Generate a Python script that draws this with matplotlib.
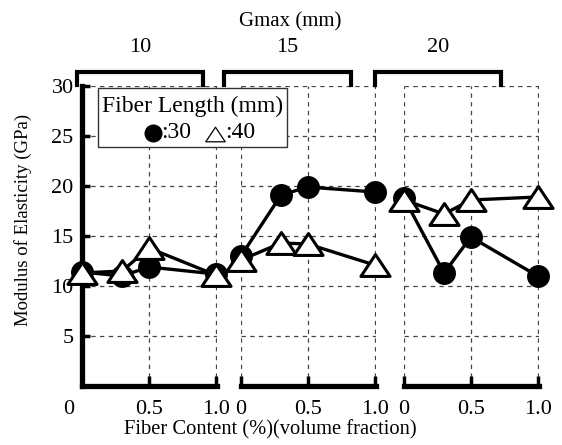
import numpy as np
import matplotlib
matplotlib.use('Agg')
import matplotlib.pyplot as plt
from matplotlib.lines import Line2D
from matplotlib.patches import Rectangle
from matplotlib.path import Path
from matplotlib.transforms import ScaledTranslation

plt.rcParams['font.family'] = ['Liberation Serif', 'DejaVu Serif']

# ── data ──
gmax = ['10', '15', '20']
fiber = [0.0, 0.3, 0.5, 1.0]
len30 = [[11.4, 11.0, 11.9, 11.2],
         [13.0, 19.1, 19.9, 19.4],
         [18.8, 11.3, 14.9, 11.0]]
len40 = [[11.3, 11.5, 13.8, 11.1],
         [12.6, 14.3, 14.2, 12.1],
         [18.6, 17.2, 18.6, 18.9]]
yticks = [5, 10, 15, 20, 25, 30]
xticks = [0, 0.5, 1.0]
xticklabels = ['0', '0.5', '1.0']

W, H = 562, 445
fig = plt.figure(figsize=(W / 100, H / 100), dpi=100)

def fx(px): return px / W
def fy(py): return 1 - py / H

lefts = [82, 241, 404]
pw = 135
top, bot = 86, 386
# wide open triangle, closed path
tri = Path([(-1, -0.75), (1, -0.75), (0, 0.75), (-1, -0.75)],
           [Path.MOVETO, Path.LINETO, Path.LINETO, Path.CLOSEPOLY])

axes = []
for i, left in enumerate(lefts):
    ax = fig.add_axes([fx(left), fy(bot), pw / W, (bot - top) / H])
    ax.set_xlim(0, 1.01)
    ax.set_ylim(0, 30)
    ax.set_xticks(xticks)
    ax.set_xticklabels(xticklabels, fontsize=16)
    ax.set_yticks(yticks)
    ax.grid(True, linestyle=(0, (3.5, 3.5)), color='#444444', linewidth=0.9)
    ax.set_axisbelow(True)
    for s in ['top', 'right']:
        ax.spines[s].set_visible(False)
    ax.spines['bottom'].set_linewidth(3.8)
    ax.tick_params(axis='x', direction='in', length=7, width=2.5, pad=10)
    if i == 0:
        ax.spines['left'].set_linewidth(3.8)
        ax.set_yticklabels([str(v) for v in yticks], fontsize=16)
        ax.tick_params(axis='y', direction='in', length=6, width=2.5, pad=6)
        lab = ax.get_xticklabels()[0]
        lab.set_transform(lab.get_transform() + ScaledTranslation(-13 / 100, 0, fig.dpi_scale_trans))
    else:
        ax.spines['left'].set_visible(False)
        ax.tick_params(axis='y', left=False, labelleft=False)
    ax.plot(fiber, len30[i], color='black', linewidth=2.4, marker='o', markersize=15.5,
            markerfacecolor='black', markeredgecolor='black', clip_on=False, zorder=3)
    ax.plot(fiber, len40[i], color='black', linewidth=2.4, marker=tri, markersize=21,
            markerfacecolor='white', markeredgecolor='black', markeredgewidth=2.2,
            clip_on=False, zorder=4)
    axes.append(ax)

fig.text(fx(23), fy(220), 'Modulus of Elasticity (GPa)', rotation=90,
         ha='center', va='center', fontsize=13.5)
fig.text(fx(270), fy(430), 'Fiber Content (%)(volume fraction)',
         ha='center', va='center', fontsize=14.8)

# top group labels with brackets
fig.text(fx(290), fy(22), 'Gmax (mm)', ha='center', va='center', fontsize=15)
brackets = [(77, 203), (224, 351), (375, 501)]
for (x0, x1), g in zip(brackets, gmax):
    fig.add_artist(Line2D([fx(x0), fx(x0), fx(x1), fx(x1)],
                          [fy(85), fy(72), fy(72), fy(85)],
                          transform=fig.transFigure, color='black', linewidth=3,
                          solid_joinstyle='miter'))
    fig.text(fx((x0 + x1) / 2), fy(47), g, ha='center', va='center', fontsize=16)

# legend box
fig.add_artist(Rectangle((fx(98), fy(147)), (287 - 98) / W, (147 - 88) / H,
                         transform=fig.transFigure, facecolor='white',
                         edgecolor='#333333', linewidth=1.0, zorder=5))
fig.text(fx(193), fy(106), 'Fiber Length (mm)', ha='center', va='center',
         fontsize=17, zorder=6)
fig.add_artist(Line2D([fx(153)], [fy(133)], transform=fig.transFigure, marker='o',
                      markersize=12, color='black', zorder=6))
fig.text(fx(161), fy(132), ':30', ha='left', va='center', fontsize=17, zorder=6)
fig.add_artist(Line2D([fx(215)], [fy(134)], transform=fig.transFigure, marker=tri,
                      markersize=14, markerfacecolor='white', markeredgecolor='black',
                      markeredgewidth=0.9, zorder=6))
fig.text(fx(225), fy(132), ':40', ha='left', va='center', fontsize=17, zorder=6)

fig.savefig('out.png', dpi=100)
